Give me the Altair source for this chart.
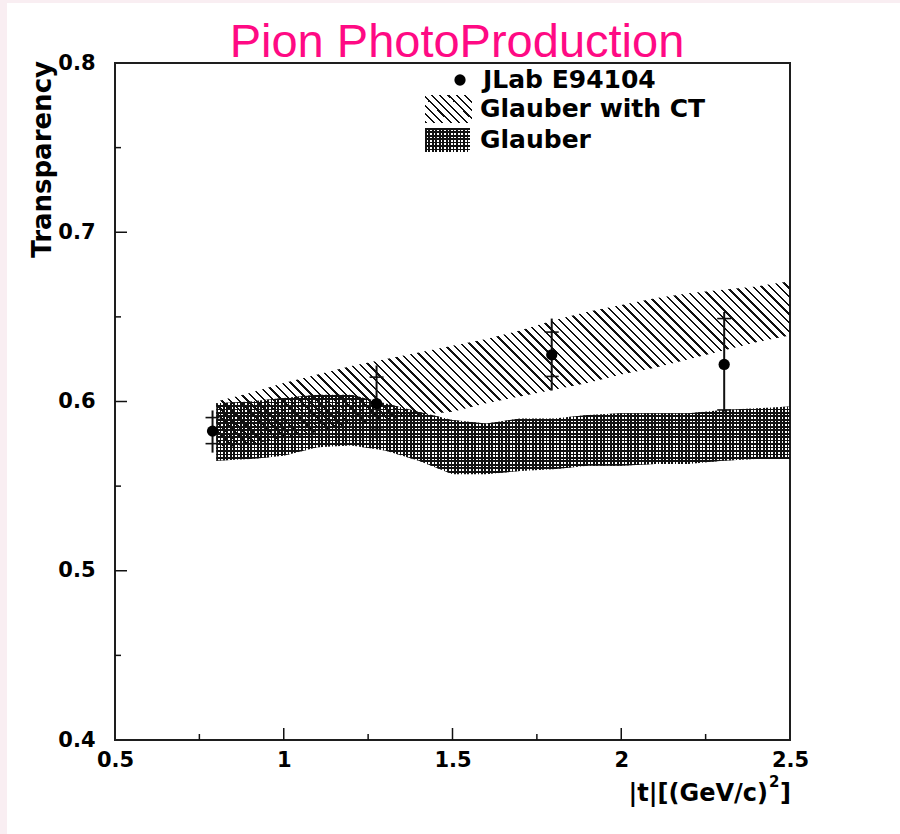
import math
import altair as alt
import pandas as pd

# ---- measured nuclear transparency, pion photoproduction ----
t_data = [0.789, 1.275, 1.794, 2.305]
transp = [0.5825, 0.5988, 0.6276, 0.6219]
stat_lo = [0.5751, 0.5835, 0.6148, 0.5950]
stat_hi = [0.5905, 0.6144, 0.6410, 0.6490]
tot_lo = [0.5698, 0.5780, 0.6065, 0.5940]
tot_hi = [0.5947, 0.6213, 0.6490, 0.6529]

# ---- model bands ----
band_t = [0.80, 0.90, 1.00, 1.10, 1.20, 1.30, 1.40, 1.50, 1.60,
          1.70, 1.80, 1.90, 2.00, 2.10, 2.20, 2.30, 2.40, 2.50]
ct_upper = [0.600, 0.605, 0.611, 0.616, 0.621, 0.625, 0.629, 0.633, 0.637,
            0.642, 0.648, 0.653, 0.657, 0.661, 0.664, 0.666, 0.668, 0.671]
ct_lower = [0.572, 0.575, 0.578, 0.582, 0.586, 0.589, 0.592, 0.594, 0.599,
            0.603, 0.607, 0.611, 0.616, 0.620, 0.625, 0.630, 0.635, 0.639]
gl_upper = [0.599, 0.600, 0.602, 0.604, 0.604, 0.599, 0.594, 0.589, 0.587,
            0.590, 0.590, 0.592, 0.593, 0.593, 0.593, 0.595, 0.596, 0.597]
gl_lower = [0.565, 0.566, 0.568, 0.573, 0.574, 0.571, 0.565, 0.557, 0.557,
            0.559, 0.560, 0.562, 0.562, 0.563, 0.563, 0.565, 0.566, 0.566]

# ---- axis ticks ----
x_labels = [0.5, 1.0, 1.5, 2.0, 2.5]
y_labels = [0.4, 0.5, 0.6, 0.7, 0.8]
x_major = [1.0, 1.5, 2.0]
x_minor = [0.75, 1.25, 1.75, 2.25]
y_major = [0.5, 0.6, 0.7]
y_minor = [0.45, 0.55, 0.65, 0.75]

W, H = 675, 677
X_DOM, Y_DOM = [0.5, 2.5], [0.4, 0.8]
PX_X = W / (X_DOM[1] - X_DOM[0])
PX_Y = H / (Y_DOM[1] - Y_DOM[0])

ROOT_FONT = "DejaVu Sans"
INK = "#111111"
CLEAR = "rgba(0,0,0,0)"

xs = alt.Scale(domain=X_DOM, zero=False, nice=False)
ys = alt.Scale(domain=Y_DOM, zero=False, nice=False)


def stripe_stops(n, duty, color=INK):
    stops = []
    for i in range(n):
        a, b = i / n, (i + duty) / n
        stops += [alt.GradientStop(color=CLEAR, offset=a),
                  alt.GradientStop(color=color, offset=a),
                  alt.GradientStop(color=color, offset=b),
                  alt.GradientStop(color=CLEAR, offset=b)]
    return stops


def diagonal_hatch(w, h, period, line):
    # "\" lines at 45 degrees on screen, for a box of w x h pixels
    k = (1 + h / w) / (1 + (h / w) ** 2)
    n = max(1, round((w + h) / math.sqrt(2) / period))
    return alt.LinearGradient(gradient="linear", stops=stripe_stops(n, line / period),
                              x1=0, y1=1, x2=k, y2=1 - k * h / w)


def vertical_lines(w, period, line):
    n = max(1, round(w / period))
    return alt.LinearGradient(gradient="linear", stops=stripe_stops(n, line / period),
                              x1=0, y1=0, x2=1, y2=0)


def horizontal_lines(h, period, line):
    n = max(1, round(h / period))
    return alt.LinearGradient(gradient="linear", stops=stripe_stops(n, line / period),
                              x1=0, y1=0, x2=0, y2=1)


bands = pd.DataFrame({"t": band_t, "ct_up": ct_upper, "ct_lo": ct_lower,
                      "gl_up": gl_upper, "gl_lo": gl_lower})
points = pd.DataFrame({"t": t_data, "T": transp, "lo": tot_lo, "hi": tot_hi})
bars = pd.DataFrame({"t": t_data * 2, "v": stat_lo + stat_hi})
one = pd.DataFrame({"k": [0]})

band_w = (max(band_t) - min(band_t)) * PX_X
ct_h = (max(ct_upper) - min(ct_lower)) * PX_Y
gl_h = (max(gl_upper) - min(gl_lower)) * PX_Y

HATCH_P, HATCH_L = 6.2, 1.7
GRID_P, GRID_L = 3.4, 1.75

# identical axis objects on every layer so they merge into one axis each
x_axis = alt.Axis(values=x_labels, format="~g", title=None, ticks=False, tickSize=0,
                  domain=False, grid=False, labelPadding=9, labelFlush=False,
                  labelOverlap=False, labelFont=ROOT_FONT, labelFontSize=21,
                  labelFontWeight="bold", labelColor="black", labelBaseline="top")
y_axis = alt.Axis(values=y_labels, format=".1f", title=None, ticks=False, tickSize=0,
                  domain=False, grid=False, labelPadding=20, labelFlush=False,
                  labelOverlap=False, labelFont=ROOT_FONT, labelFontSize=21,
                  labelFontWeight="bold", labelColor="black", labelBaseline="middle")


def X(field):
    return alt.X(field, type="quantitative", scale=xs, axis=x_axis)


def Y(field):
    return alt.Y(field, type="quantitative", scale=ys, axis=y_axis)


base = alt.Chart(bands)

ct_band = base.mark_area(fill=diagonal_hatch(band_w, ct_h, HATCH_P, HATCH_L)).encode(
    x=X("t"), y=Y("ct_up"), y2="ct_lo:Q")

gl_band_v = base.mark_area(fill=vertical_lines(band_w, GRID_P, GRID_L)).encode(
    x=X("t"), y=Y("gl_up"), y2="gl_lo:Q")

gl_band_h = base.mark_area(fill=horizontal_lines(gl_h, GRID_P, GRID_L)).encode(
    x=X("t"), y=Y("gl_up"), y2="gl_lo:Q")

# inward ROOT-style ticks
xt_major = alt.Chart(pd.DataFrame({"t": x_major})).mark_rule(color=INK, strokeWidth=1.5).encode(
    x=X("t"), y=alt.value(H), y2=alt.value(H - 12))
xt_minor = alt.Chart(pd.DataFrame({"t": x_minor})).mark_rule(color=INK, strokeWidth=1.5).encode(
    x=X("t"), y=alt.value(H), y2=alt.value(H - 6))
yt_major = alt.Chart(pd.DataFrame({"v": y_major})).mark_rule(color=INK, strokeWidth=1.5).encode(
    y=Y("v"), x=alt.value(0), x2=alt.value(12))
yt_minor = alt.Chart(pd.DataFrame({"v": y_minor})).mark_rule(color=INK, strokeWidth=1.5).encode(
    y=Y("v"), x=alt.value(0), x2=alt.value(6))

err_total = alt.Chart(points).mark_rule(color=INK, strokeWidth=2).encode(
    x=X("t"), y=Y("lo"), y2="hi:Q")
err_stat = alt.Chart(bars).mark_tick(orient="horizontal", size=14, thickness=1.6,
                                     color=INK, opacity=1).encode(
    x=X("t"), y=Y("v"))
dots = alt.Chart(points).mark_circle(size=127, color="black", opacity=1).encode(
    x=X("t"), y=Y("T"))

# legend
lg = alt.Chart(one)
leg_dot = lg.mark_circle(size=127, color="black", opacity=1).encode(
    x=alt.value(345), y=alt.value(17))
leg_ct = lg.mark_rect(fill=diagonal_hatch(47, 28, HATCH_P, HATCH_L)).encode(
    x=alt.value(310), x2=alt.value(357), y=alt.value(32), y2=alt.value(60))
leg_gl_v = lg.mark_rect(fill=vertical_lines(45, GRID_P, GRID_L)).encode(
    x=alt.value(310), x2=alt.value(355), y=alt.value(65), y2=alt.value(89))
leg_gl_h = lg.mark_rect(fill=horizontal_lines(24, GRID_P, GRID_L)).encode(
    x=alt.value(310), x2=alt.value(355), y=alt.value(65), y2=alt.value(89))


def label(text, x, y, size, align="left", weight="bold", font=ROOT_FONT,
          color="black", angle=0):
    return lg.mark_text(text=text, align=align, baseline="alphabetic", font=font,
                        fontSize=size, fontWeight=weight, color=color,
                        angle=angle).encode(x=alt.value(x), y=alt.value(y))


texts = [
    label("JLab E94104", 368, 25, 25),
    label("Glauber with CT", 365, 54, 25),
    label("Glauber", 365, 85, 25),
    label("Pion PhotoProduction", 342, -6, 47, align="center", weight="normal",
          font="Liberation Sans", color="#ff0a84"),
    label("Transparency", -64, -2, 26, align="right", angle=270),
    label("|t|[(GeV/c)", 653, 738, 24, align="right"),
    label("2", 654, 724, 15),
    label("]", 665, 738, 24),
]

# slide edge strips
strip_left = lg.mark_rect(color="#f9eef2").encode(
    x=alt.value(-115), x2=alt.value(-108), y=alt.value(-63), y2=alt.value(H + 94))
strip_top = lg.mark_rect(color="#f9eef2").encode(
    x=alt.value(-115), x2=alt.value(W + 110), y=alt.value(-63), y2=alt.value(-60))

chart = alt.layer(
    ct_band, gl_band_v, gl_band_h,
    xt_major, xt_minor, yt_major, yt_minor,
    err_total, err_stat, dots,
    leg_ct, leg_gl_v, leg_gl_h, leg_dot,
    *texts, strip_left, strip_top,
).properties(
    width=W, height=H,
    autosize=alt.AutoSizeParams(type="none"),
    padding={"left": 115, "top": 63, "right": 110, "bottom": 94},
    background="white",
).configure_view(stroke="#1e1e1e", strokeWidth=2)

chart.save("out.html", embed_options={"renderer": "svg", "actions": False})
